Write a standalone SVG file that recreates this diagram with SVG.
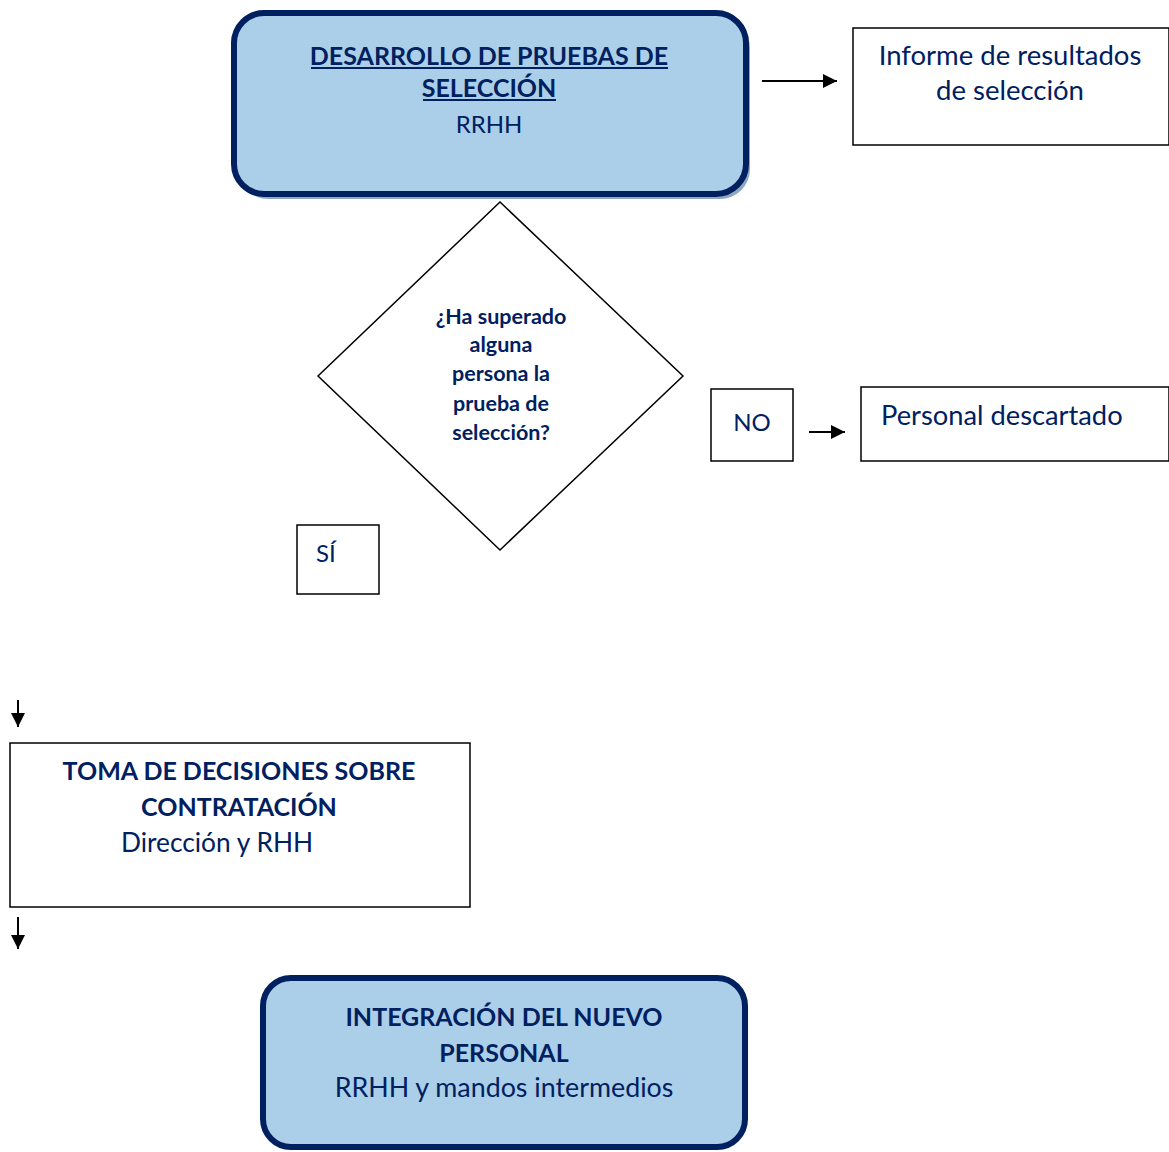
<svg xmlns="http://www.w3.org/2000/svg" width="1169" height="1152" viewBox="0 0 1169 1152">
<style>
.t{font-family:Lato,"Open Sans","Liberation Sans",sans-serif;fill:#002060}
.b{font-weight:bold}
.c{text-anchor:middle}
.box{fill:#fff;stroke:#000;stroke-width:1.5}
.rnd{fill:#accfe9;stroke:#002060;stroke-width:6}
.con{stroke:#000;stroke-width:2;fill:none}
</style>
<defs>
<marker id="ah2" viewBox="0 0 10 10" refX="10" refY="5" markerWidth="14" markerHeight="14" markerUnits="userSpaceOnUse" orient="auto"><path d="M0,0L10,5L0,10z" fill="#000"/></marker>
</defs>
<g id="connectors">
<line class="con" x1="762" y1="81" x2="837" y2="81" marker-end="url(#ah2)"/>
<line class="con" x1="809" y1="432" x2="845" y2="432" marker-end="url(#ah2)"/>
<line class="con" x1="18" y1="700" x2="18" y2="727" marker-end="url(#ah2)"/>
<line class="con" x1="18" y1="917" x2="18" y2="949" marker-end="url(#ah2)"/>
</g>
<g id="desarrollo">
<rect x="238" y="18" width="512" height="181" rx="30" fill="#8fa8c0"/>
<rect class="rnd" x="234" y="13" width="512" height="181" rx="30"/>
<text class="t b c" x="489" y="65" font-size="25">DESARROLLO DE PRUEBAS DE</text>
<text class="t b c" x="489" y="97" font-size="25">SELECCIÓN</text>
<rect x="311" y="67" width="357" height="2" fill="#002060"/>
<rect x="423" y="99" width="133" height="2" fill="#002060"/>
<text class="t c" x="489" y="133" font-size="24">RRHH</text>
</g>
<g id="informe">
<rect class="box" x="853" y="28" width="316" height="117"/>
<text class="t c" x="1010" y="65" font-size="27.5">Informe de resultados</text>
<text class="t c" x="1010" y="100" font-size="27.5">de selección</text>
</g>
<g id="decision">
<polygon points="500,202 683,376 500,550 318,376" fill="#fff" stroke="#000" stroke-width="1.5"/>
<text class="t b c" x="501" y="324" font-size="21.5">¿Ha superado</text>
<text class="t b c" x="501" y="352" font-size="21.5">alguna</text>
<text class="t b c" x="501" y="381" font-size="21.5">persona la</text>
<text class="t b c" x="501" y="411" font-size="21.5">prueba de</text>
<text class="t b c" x="501" y="440" font-size="21.5">selección?</text>
</g>
<g id="no">
<rect class="box" x="711" y="389" width="82" height="72"/>
<text class="t c" x="752" y="431" font-size="24">NO</text>
</g>
<g id="descartado">
<rect class="box" x="861" y="387" width="308" height="74"/>
<text class="t" x="881" y="425" font-size="27.3">Personal descartado</text>
</g>
<g id="si">
<rect class="box" x="297" y="525" width="82" height="69"/>
<text class="t" x="316" y="562" font-size="24">SÍ</text>
</g>
<g id="toma">
<rect class="box" x="10" y="743" width="460" height="164"/>
<text class="t b c" x="239" y="780" font-size="25">TOMA DE DECISIONES SOBRE</text>
<text class="t b c" x="239" y="816" font-size="25">CONTRATACIÓN</text>
<text class="t c" x="217" y="852" font-size="26.3">Dirección y RHH</text>
</g>
<g id="integracion">
<rect class="rnd" x="263" y="978" width="482" height="169" rx="28"/>
<text class="t b c" x="504" y="1026" font-size="25">INTEGRACIÓN DEL NUEVO</text>
<text class="t b c" x="504" y="1062" font-size="25">PERSONAL</text>
<text class="t c" x="504" y="1097" font-size="26.8">RRHH y mandos intermedios</text>
</g>
</svg>
